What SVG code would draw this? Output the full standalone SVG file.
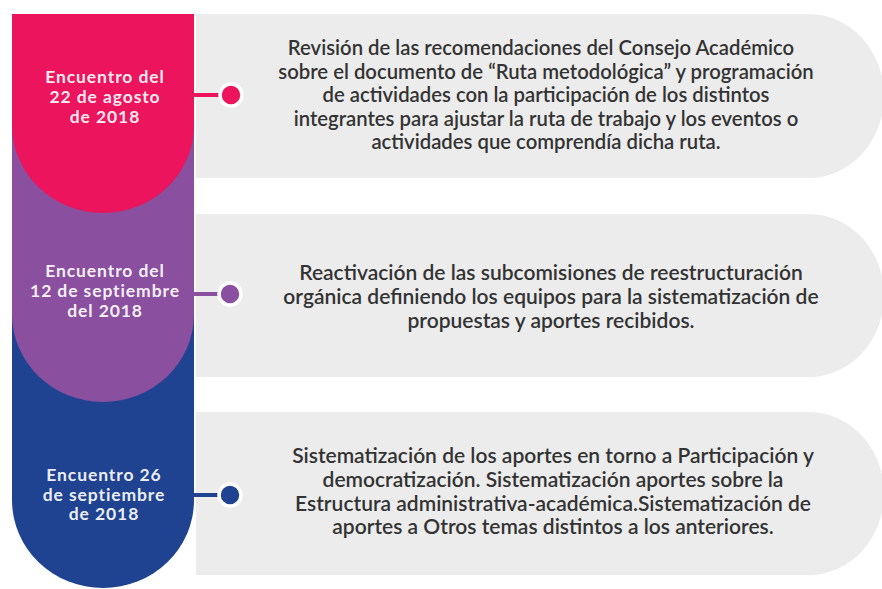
<svg xmlns="http://www.w3.org/2000/svg" width="882" height="589" viewBox="0 0 882 589">
<style>
.box{fill:#ececec}
.lbl{font-family:Lato,"Open Sans","Liberation Sans",sans-serif;font-weight:700;font-size:17.5px;letter-spacing:0.9px;text-anchor:middle;fill:#fff;fill-opacity:0.93}
.txt{font-family:Lato,"Open Sans","Liberation Sans",sans-serif;font-weight:600;font-size:20.3px;text-anchor:middle;fill:#333}
.txt2{font-size:21px}
.dot{stroke:#fff;stroke-width:3.5}
</style>
<rect width="882" height="589" fill="#fff"/>
<g id="box1"><path class="box" d="M196,14 H809 A75,82 0 0 1 809,178 H196 Z"/>
<text class="txt"><tspan x="541" y="55">Revisión de las recomendaciones del Consejo Académico</tspan><tspan x="546" y="78.5">sobre el documento de “Ruta metodológica” y programación</tspan><tspan x="546" y="102">de actividades con la participación de los distintos</tspan><tspan x="546" y="125.5">integrantes para ajustar la ruta de trabajo y los eventos o</tspan><tspan x="546" y="149">actividades que comprendía dicha ruta.</tspan></text></g>
<g id="box2"><path class="box" d="M196,214 H809 A75,81.5 0 0 1 809,377 H196 Z"/>
<text class="txt txt2"><tspan x="551" y="280">Reactivación de las subcomisiones de reestructuración</tspan><tspan x="551" y="304">orgánica definiendo los equipos para la sistematización de</tspan><tspan x="551" y="327.5">propuestas y aportes recibidos.</tspan></text></g>
<g id="box3"><path class="box" d="M196,412 H809 A75,81.5 0 0 1 809,575 H196 Z"/>
<text class="txt txt2"><tspan x="553" y="463">Sistematización de los aportes en torno a Participación y</tspan><tspan x="553" y="487">democratización. Sistematización aportes sobre la</tspan><tspan x="553" y="510.5">Estructura administrativa-académica.Sistematización de</tspan><tspan x="553" y="534">aportes a Otros temas distintos a los anteriores.</tspan></text></g>
<g id="node3"><path d="M12,300 H194 V500 A91,88 0 0 1 12,500 Z" fill="#1f4391"/>
<text class="lbl"><tspan x="104" y="481">Encuentro 26</tspan><tspan x="104" y="500.5">de septiembre</tspan><tspan x="104" y="520">de 2018</tspan></text></g>
<g id="node2"><path d="M12,120 H194 V314 A91,88 0 0 1 12,314 Z" fill="#8a4f9e"/>
<text class="lbl"><tspan x="105" y="277">Encuentro del</tspan><tspan x="105" y="297">12 de septiembre</tspan><tspan x="105" y="317">del 2018</tspan></text></g>
<g id="node1"><path d="M12,14 H194 V125 A91,88 0 0 1 12,125 Z" fill="#ec145d"/>
<text class="lbl"><tspan x="105" y="83">Encuentro del</tspan><tspan x="105" y="103">22 de agosto</tspan><tspan x="105" y="123">de 2018</tspan></text></g>
<g id="connectors">
<line x1="194" y1="95" x2="228" y2="95" stroke="#ec145d" stroke-width="4"/>
<circle class="dot" cx="231" cy="95" r="11" fill="#ec145d"/>
<line x1="194" y1="294" x2="228" y2="294" stroke="#8a4f9e" stroke-width="4"/>
<circle class="dot" cx="230" cy="294" r="11" fill="#8a4f9e"/>
<line x1="194" y1="495" x2="228" y2="495" stroke="#1f4391" stroke-width="4"/>
<circle class="dot" cx="230" cy="495" r="11" fill="#1f4391"/>
</g>
</svg>
